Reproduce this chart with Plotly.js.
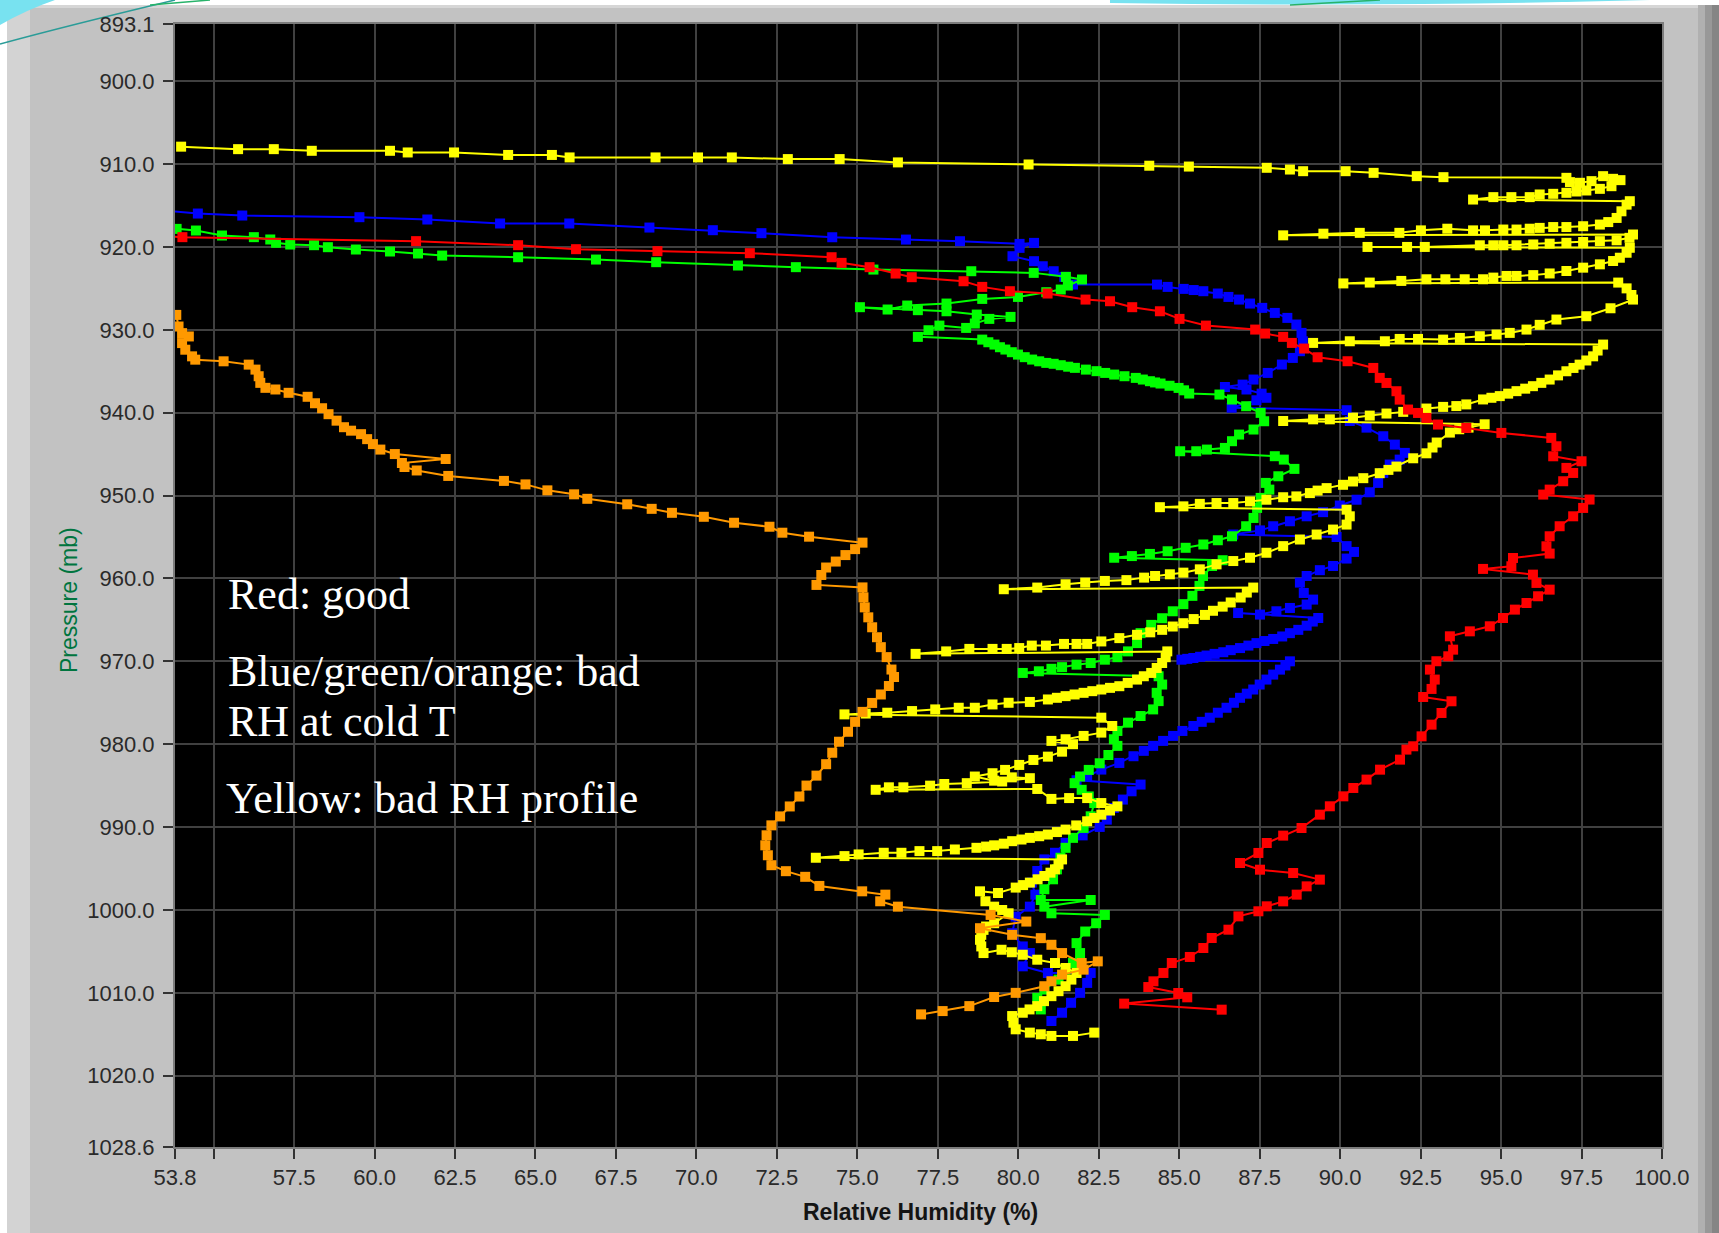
<!DOCTYPE html>
<html>
<head>
<meta charset="utf-8">
<script src="https://cdn.plot.ly/plotly-3.0.1.min.js"></script>
<style>
  html, body { margin: 0; padding: 0; background: #ffffff; }
  #chart { width: 1719px; height: 1233px; }
</style>
</head>
<body>
<div id="chart"></div>
<script>
// Relative humidity (%) against pressure (mb) for five sonde profiles.
// Each profile is a list of [RH, pressure] readings, ordered from low to high pressure.

const rhTicks    = [53.8, 55, 57.5, 60, 62.5, 65, 67.5, 70, 72.5, 75, 77.5, 80, 82.5, 85, 87.5, 90, 92.5, 95, 97.5, 100];
const rhTickText = ['53.8', '', '57.5', '60.0', '62.5', '65.0', '67.5', '70.0', '72.5', '75.0', '77.5', '80.0', '82.5', '85.0', '87.5', '90.0', '92.5', '95.0', '97.5', '100.0'];
const pTicks     = [893.1, 900, 910, 920, 930, 940, 950, 960, 970, 980, 990, 1000, 1010, 1020, 1028.6];
const pTickText  = ['893.1', '900.0', '910.0', '920.0', '930.0', '940.0', '950.0', '960.0', '970.0', '980.0', '990.0', '1000.0', '1010.0', '1020.0', '1028.6'];

const blue = [
  [53.5,915.6],[54.51,915.97],[55.89,916.21],[59.53,916.41],[61.64,916.69],[63.9,917.17],[66.05,917.17],[68.54,917.66],[70.51,917.98],[72.02,918.34],[74.22,918.83],[76.51,919.11],[78.19,919.31],[80.04,919.63],[80.49,919.51],[80.04,920.11],[79.82,921.12],[80.49,921.72],[80.76,922.33],[81.1,922.93],[81.43,923.61],[81.7,924.54],
  [84.31,924.54],[84.64,924.82],[85.14,925.06],[85.45,925.2],[85.75,925.34],[86.2,925.62],[86.53,926.03],[86.86,926.35],[87.2,926.83],[87.58,927.35],[87.97,927.96],[88.36,928.56],[88.64,929.36],[88.8,930.37],[88.84,931.38],[88.75,932.58],[88.53,933.39],[88.19,934.19],[87.75,935.2],[87.31,936.0],[86.97,936.61],[86.42,936.9],[87.09,937.2],[87.56,937.7],[87.71,938.2],[87.4,938.5],[86.63,939.4],
  [90.2,939.7],[90.3,941.0],[90.82,941.8],[91.34,942.84],[91.7,943.85],[92.01,944.85],[91.85,945.66],[91.54,946.26],[91.34,947.27],[91.18,948.47],[90.92,949.6],[90.51,950.5],[89.99,951.2],[89.47,952.0],[88.96,952.5],[88.44,953.1],[87.92,953.7],[87.51,954.2],[86.68,954.7],
  [89.89,955.0],[90.2,956.1],[90.43,956.8],[90.2,957.6],[89.78,958.5],[89.37,959.0],[88.96,959.7],[88.75,960.5],[88.87,961.75],[89.16,962.55],[88.96,963.15],[88.44,963.56],[88.02,963.96],[87.51,964.36],[86.83,964.17],
  [89.32,964.77],[89.15,965.2],[88.96,965.7],[88.7,966.2],[88.44,966.6],[88.2,967.0],[87.92,967.3],[87.65,967.55],[87.4,967.8],[87.15,968.1],[86.89,968.4],[86.6,968.65],[86.37,968.9],[86.1,969.1],[85.85,969.3],[85.65,969.45],[85.44,969.6],[85.25,969.7],[85.07,969.8],
  [88.44,970.0],[88.3,970.5],[88.13,971.0],[87.92,971.6],[87.71,972.2],[87.5,972.8],[87.3,973.4],[87.1,973.9],[86.89,974.4],[86.7,975.0],[86.47,975.6],[86.2,976.2],[85.95,976.8],[85.7,977.3],[85.44,977.8],[85.1,978.4],[84.81,979.0],[84.5,979.6],[84.19,980.2],[83.9,980.8],[83.58,981.45],[83.14,982.26],[82.58,983.06],[82.14,983.87],[81.81,984.35],
  [83.8,984.87],[83.52,985.68],[83.25,986.68],[82.97,987.69],[82.75,989.1],[82.53,989.98],[82.0,991.0],[81.47,991.9],[81.14,993.1],[80.81,993.9],[80.59,995.3],[80.42,996.7],[80.53,998.15],[80.36,999.6],[79.92,1000.8],[79.81,1002.8],[80.14,1004.4],[80.36,1005.2],[80.14,1006.8],[80.92,1007.6],
  [82.25,1007.6],[82.14,1008.8],[81.92,1010.0],[81.64,1011.2],[81.36,1012.4],[81.03,1013.4]
];

const green = [
  [53.85,917.82],[54.45,918.02],[55.26,918.62],[56.25,918.82],[56.76,919.1],[56.94,919.5],[57.38,919.71],[58.12,919.79],[58.55,920.03],[59.42,920.31],[60.48,920.55],[61.35,920.79],[62.1,921.04],[64.46,921.24],[66.88,921.52],[68.75,921.84],[71.29,922.24],[73.09,922.44],[75.5,922.73],[78.54,922.93],[80.48,923.13],
  [81.48,923.61],[81.98,923.93],[81.54,924.66],[81.32,925.14],[80.87,925.46],[79.99,926.03],[78.88,926.27],[77.77,926.83],[76.55,927.07],[75.94,927.55],[75.08,927.27],[76.88,927.63],[77.77,927.76],[78.71,928.16],[79.76,928.44],[79.1,928.68],[78.65,929.24],[78.38,929.77],[77.55,929.49],[77.21,930.05],[76.88,930.85],
  [78.88,931.18],[79.07,931.5],[79.26,931.78],[79.43,932.1],[79.6,932.38],[79.8,932.7],[79.99,932.99],[80.2,933.3],[80.43,933.59],[80.65,933.8],[80.87,933.99],[81.1,934.1],[81.32,934.27],[81.55,934.45],[81.76,934.59],[82.1,934.8],[82.43,934.99],[82.7,935.2],[82.98,935.4],[83.3,935.6],[83.65,935.8],[83.87,936.0],[84.09,936.2],[84.25,936.35],[84.42,936.48],[84.7,936.75],[84.98,937.01],[85.15,937.3],[85.31,937.69],
  [86.25,937.81],[86.64,938.41],[87.08,939.22],[87.53,940.02],[87.64,941.03],[87.31,942.03],[86.86,942.64],[86.64,943.44],[86.42,944.25],[85.86,944.45],[85.53,944.65],[85.03,944.65],
  [87.97,945.25],[88.25,945.66],[88.58,946.78],[88.08,947.67],[87.69,948.47],[87.8,949.28],[87.53,950.28],[87.42,951.49],[87.31,952.7],[87.08,953.7],[86.64,954.91],[86.2,955.39],[85.75,955.9],[85.2,956.3],[84.64,956.72],[84.09,957.04],[83.53,957.3],[82.98,957.5],
  [86.35,957.8],[86.02,958.5],[85.74,959.7],[85.63,960.9],[85.41,962.1],[85.13,963.1],[84.8,963.96],[84.47,964.8],[84.13,965.6],[83.8,966.6],[83.69,967.8],[83.41,968.8],[83.08,969.5],[82.69,969.8],[82.25,970.2],[81.81,970.4],[81.36,970.7],[81.03,970.9],[80.64,971.2],[80.14,971.4],
  [84.36,971.8],[84.47,972.8],[84.3,973.8],[84.36,974.8],[84.19,975.8],[83.8,976.6],[83.41,977.4],[83.08,978.4],[82.97,979.4],[83.08,980.2],[82.8,981.3],[82.53,982.3],[82.19,983.1],[81.92,983.9],[81.75,984.7],[81.97,985.5],[82.19,986.3],[82.36,987.1],[82.25,988.7],[82.03,990.1],[81.7,991.3],[81.47,992.5],[81.31,993.7],[81.2,995.1],[81.08,996.3],[80.81,997.5],[80.7,998.8],
  [82.25,998.8],[80.81,999.6],[81.03,1000.4],[82.69,1000.6],[82.42,1001.6],[82.08,1002.6],[81.81,1004.0],[81.92,1005.2],[81.7,1006.4],[81.47,1007.2],[81.25,1008.4],[80.81,1009.6],[80.59,1010.6],[80.7,1012.0]
];

const yellow = [
  [53.99,907.9],[55.76,908.2],[56.87,908.2],[58.05,908.4],[60.48,908.4],[61.03,908.6],[62.47,908.6],[64.15,908.9],[65.51,908.9],[66.06,909.2],[68.73,909.2],[70.05,909.2],[71.1,909.2],[72.84,909.4],[74.45,909.4],[76.26,909.8],[80.32,910.05],[84.07,910.2],[85.3,910.3],[87.72,910.45],[88.44,910.66],[88.85,910.86],[90.17,910.86],[91.04,911.06],[92.38,911.46],[93.21,911.58],[97.03,911.66],
  [97.14,912.18],[97.45,912.26],[97.81,912.06],[98.17,911.46],[98.48,911.78],[98.71,911.94],[98.43,912.67],[98.07,912.99],[97.65,913.19],[97.34,913.31],[97.03,913.47],
  [96.62,913.59],[96.2,913.67],[95.89,913.99],[95.32,913.99],[94.76,913.99],[94.13,914.28],
  [99.0,914.48],[98.9,914.9],[98.74,915.7],[98.59,916.5],[98.33,917.0],[98.07,917.3],[97.55,917.5],[97.03,917.6],[96.62,917.6],[96.2,917.7],[95.89,917.8],[95.48,917.9],[95.07,917.9],[94.5,918.0],[94.13,918.0],[93.33,917.8],[92.51,918.0],[91.84,918.3],[90.61,918.3],[89.48,918.4],[88.23,918.6],
  [99.1,918.5],[98.99,918.9],[98.59,919.2],[98.07,919.3],[97.55,919.4],[97.03,919.5],[96.51,919.6],[96.0,919.7],[95.48,919.8],[95.07,919.8],[94.76,919.8],[94.34,919.8],[92.63,920.0],[92.08,920.0],[90.85,920.0],
  [99.0,920.1],[98.9,920.7],[98.69,921.3],[98.48,921.7],[98.07,922.1],[97.55,922.5],[97.03,922.9],[96.51,923.2],[96.0,923.4],[95.48,923.5],[95.17,923.5],[94.76,923.7],[94.44,923.9],[93.87,923.9],[93.27,923.9],[92.68,923.9],[91.9,924.1],[90.92,924.3],[90.1,924.4],
  [98.64,924.3],[98.9,925.0],[99.05,925.8],[99.1,926.35],[98.4,927.4],[97.65,928.36],[96.72,928.76],[96.2,929.4],[95.79,929.97],[95.27,930.37],[94.86,930.57],[94.34,930.77],[93.72,930.98],[93.2,931.18],[92.42,931.1],[91.85,931.1],[91.39,931.38],[90.3,931.38],[89.16,931.58],
  [98.17,931.78],[98.0,932.5],[97.86,933.2],[97.65,933.7],[97.44,934.2],[97.25,934.6],[97.03,935.0],[96.77,935.5],[96.51,936.0],[96.25,936.4],[95.99,936.8],[95.75,937.1],[95.48,937.4],[95.22,937.7],[94.96,938.0],[94.7,938.2],[94.44,938.4],[93.92,939.0],[93.61,939.2],[93.2,939.3],[92.68,939.5],[91.96,939.9],[91.44,940.1],[90.92,940.35],[90.4,940.6],[89.68,940.8],[89.16,940.8],[88.23,941.0],
  [94.49,941.4],[93.99,941.8],[93.7,942.0],[93.41,942.4],[93.0,943.6],[92.87,944.2],[92.68,944.9],[92.27,945.5],[91.75,946.5],[91.5,946.9],[91.23,947.3],[90.72,947.9],[90.4,948.3],[90.09,948.7],[89.58,949.1],[89.3,949.4],[89.06,949.7],[88.64,950.1],[88.23,950.2],[87.71,950.5],[87.2,950.7],[86.68,950.9],[86.16,950.9],[85.64,951.0],[85.13,951.3],[84.4,951.4],
  [90.2,951.7],[90.3,952.5],[90.2,953.5],[89.78,954.1],[89.27,954.7],[88.75,955.3],[88.23,956.1],[87.71,956.9],[87.2,957.5],[86.68,957.9],[86.16,958.3],[85.64,958.9],[85.13,959.3],[84.71,959.5],[84.25,959.7],[83.91,959.9],[83.36,960.2],[82.69,960.3],[82.08,960.5],[81.47,960.7],[80.59,961.1],[79.55,961.3],
  [87.3,961.1],[87.1,961.7],[86.91,962.3],[86.6,962.9],[86.35,963.4],[86.05,963.9],[85.8,964.4],[85.45,964.9],[85.13,965.4],[84.8,965.8],[84.47,966.2],[84.1,966.5],[83.69,966.8],[83.14,967.2],[82.58,967.6],[82.14,967.9],[81.81,967.9],[81.42,967.9],[80.86,968.1],[80.42,968.1],[80.03,968.4],[79.64,968.5],[79.2,968.5],[78.48,968.5],[77.76,968.8],[76.81,969.1],
  [84.63,968.8],[84.58,969.5],[84.47,970.2],[84.3,970.8],[84.13,971.4],[83.9,971.8],[83.69,972.2],[83.4,972.6],[83.14,973.0],[82.85,973.2],[82.58,973.4],[82.3,973.6],[82.03,973.8],[81.75,974.0],[81.47,974.2],[81.2,974.4],[80.92,974.6],[80.36,974.9],[79.7,975.0],[79.2,975.2],[78.65,975.6],[78.15,975.6],[77.42,975.8],[76.7,976.0],[75.93,976.2],[75.26,976.3],[74.6,976.4],
  [82.58,976.8],[82.92,977.8],[82.58,978.6],[82.03,979.0],[81.47,979.4],[81.03,979.6],[81.7,980.0],[81.36,980.9],[80.92,981.5],[80.47,981.9],[80.03,982.5],[79.59,983.1],[79.2,983.5],[78.65,983.9],[79.25,984.4],[79.8,984.0],[80.36,984.1],[79.5,984.5],[78.4,984.7],[77.7,984.8],[77.26,985.0],[76.43,985.2],[75.98,985.2],[75.57,985.5],
  [80.59,985.4],[81.03,986.6],[81.58,986.5],[82.14,986.5],[82.58,987.1],[83.08,987.5],[82.85,988.0],[82.58,988.5],[82.36,988.9],[82.14,989.3],[81.8,989.8],[81.47,990.3],[81.2,990.6],[80.92,990.9],[80.65,991.1],[80.36,991.3],[80.1,991.5],[79.81,991.7],[79.55,992.0],[79.25,992.2],[79.0,992.35],[78.7,992.5],[78.03,992.7],[77.48,992.9],[76.93,992.9],[76.37,993.1],[75.82,993.1],[75.04,993.3],[74.6,993.5],[73.71,993.7],
  [81.36,993.9],[81.25,994.5],[81.14,995.1],[81.0,995.5],[80.81,995.9],[80.6,996.3],[80.36,996.7],[80.15,997.0],[79.92,997.3],[79.37,997.95],[78.81,997.75],[78.98,998.95],[79.25,999.6],[79.5,1000.0],[79.7,1000.4],[79.25,1001.6],[79.0,1002.0],[78.92,1002.4],[78.85,1003.0],[78.81,1003.6],[78.85,1004.4],[78.92,1005.2],[79.48,1004.8],[79.8,1005.1],[80.14,1005.4],[80.59,1006.0],[81.14,1006.4],[81.47,1007.0],[81.81,1007.6],[81.65,1008.4],[81.47,1009.2],[81.25,1009.8],[81.03,1010.4],[80.8,1011.0],[80.59,1011.6],[80.35,1012.0],[80.14,1012.4],[79.81,1012.8],[79.85,1013.6],[79.92,1014.4],[80.36,1014.8],[80.7,1015.0],[81.03,1015.2],[81.7,1015.2],[82.36,1014.8]
];

const red = [
  [53.6,918.7],[54.03,918.82],[61.29,919.3],[64.46,919.79],[66.26,920.27],[68.79,920.51],[71.66,920.75],[74.2,921.24],[74.51,921.92],[75.38,922.44],[76.19,923.21],[76.69,923.65],[78.3,924.14],[78.88,924.82],[79.74,925.34],[80.91,925.62],[82.09,926.35],[82.85,926.55],[83.54,927.27],[84.4,927.76],[85.01,928.68],[85.83,929.49],[87.36,929.97],[87.67,930.45],[88.23,930.85],[88.5,931.58],[88.88,932.26],[89.3,933.31],[90.23,933.79],
  [91.03,934.6],[91.23,935.8],[91.44,936.41],[91.75,937.41],[91.85,938.42],[92.11,939.62],[92.42,940.03],[92.68,940.63],[93.04,941.43],[93.92,941.84],[95.01,942.44],[96.56,943.04],[96.72,944.05],[96.62,945.26],[97.5,945.86],[97.03,946.66],[97.24,947.27],[96.93,948.27],[96.51,949.28],[96.31,949.88],
  [97.75,950.48],[97.55,951.49],[97.24,952.5],[96.82,953.7],[96.51,954.91],[96.41,956.12],[96.51,957.0],[95.37,957.53],[95.32,958.53],[94.44,958.85],[95.99,959.54],[96.1,960.54],[96.51,961.35],[96.15,962.15],[95.79,962.96],[95.43,963.76],[95.06,964.77],[94.65,965.77],[94.03,966.38],[93.41,966.98],[93.51,968.59],[93.36,969.39],[92.99,969.99],[92.79,971.0],[92.94,972.2],[92.84,973.33],[92.58,974.3],
  [93.46,974.82],[93.15,976.23],[92.84,977.64],[92.53,979.05],[92.27,980.25],[92.06,980.65],[91.86,981.86],[91.24,983.07],[90.82,984.27],[90.41,985.28],[90.1,986.29],[89.68,987.49],[89.37,988.5],[88.8,990.11],[88.23,991.03],[87.72,991.92],[87.46,993.12],[86.89,994.33],
  [87.51,995.14],[88.54,995.54],[89.37,996.34],[88.96,997.15],[88.65,998.15],[88.23,998.96],[87.72,999.56],[87.46,1000.16],[86.84,1000.77],[86.53,1002.38],[86.01,1003.38],[85.75,1004.59],[85.33,1005.67],[84.77,1006.4],[84.51,1007.6],[84.2,1008.61],[84.04,1009.3],[84.97,1010.02],[85.25,1010.54],[83.29,1011.3],[86.32,1012.03]
];

const orange = [
  [53.84,928.2],[53.91,929.6],[54.02,930.4],[54.23,930.8],[54.02,931.6],[54.12,932.4],[54.33,933.2],[54.43,933.6],[55.31,933.8],[56.09,934.2],[56.3,934.8],[56.4,935.6],[56.45,936.4],[56.61,937.0],[56.92,937.2],[57.33,937.6],[57.92,938.08],[58.15,938.86],[58.37,939.46],[58.57,940.18],[58.82,940.96],[59.05,941.75],[59.27,942.17],[59.58,942.59],[59.77,943.19],[59.95,943.79],[60.18,944.45],[60.63,944.99],[62.21,945.59],[60.85,946.07],[60.93,946.55],[61.31,946.97],[62.29,947.63],
  [64.02,948.23],[64.69,948.65],[65.37,949.37],[66.2,949.85],[66.61,950.39],[67.85,951.05],[68.61,951.6],[69.24,952.08],[70.23,952.56],[71.17,953.28],[72.27,953.76],[72.67,954.48],[73.5,954.96],[75.16,955.68],[74.93,956.46],[74.63,957.18],[74.33,957.96],[74.03,958.68],[73.88,959.58],[73.73,960.78],
  [75.16,961.08],[75.19,962.28],[75.23,963.49],[75.34,964.69],[75.46,965.89],[75.61,967.09],[75.73,968.29],[75.91,969.49],[76.06,970.99],[76.14,971.89],[75.98,972.98],[75.73,974.0],[75.46,975.02],[75.16,976.1],[74.93,977.3],[74.71,978.5],[74.43,979.7],[74.22,981.03],[74.03,982.41],[73.73,983.79],[73.42,984.99],[73.2,986.31],[72.9,987.51],[72.6,988.71],[72.33,989.79],[72.18,990.99],[72.14,992.2],[72.22,993.4],[72.33,994.6],
  [72.78,995.32],[73.38,996.0],[73.82,997.1],[75.15,997.75],[75.87,998.15],[75.71,998.95],[76.26,999.6],[79.14,1000.6],[80.25,1001.4],[78.81,1002.2],[79.81,1003.0],[80.7,1003.4],[81.03,1004.2],[81.36,1005.2],[81.97,1006.4],[82.47,1006.2],[82.03,1007.2],[81.36,1007.8],[81.03,1008.6],[80.81,1009.2],[79.92,1010.0],[79.25,1010.5],[78.48,1011.6],[77.65,1012.2],[76.98,1012.6]
];

// Drawing order: later series sit on top.
const series = [
  { pts: blue,   color: '#0000ff' },
  { pts: green,  color: '#00ff00' },
  { pts: yellow, color: '#ffff00' },
  { pts: red,    color: '#ff0000' },
  { pts: orange, color: '#ff9900' }
];

const traces = series.map(s => ({
  type: 'scatter',
  mode: 'lines+markers',
  x: s.pts.map(p => p[0]),
  y: s.pts.map(p => p[1]),
  line: { color: s.color, width: 2 },
  marker: { color: s.color, symbol: 'square', size: 10, line: { width: 0 } },
  hoverinfo: 'skip',
  cliponaxis: true
}));

// Page geometry helpers (pixels -> paper fraction)
const W = 1719, H = 1233, ML = 175, MR = 57, MT = 24, MB = 86;
const PW = W - ML - MR, PH = H - MT - MB;
const fx = x => (x - ML) / PW;
const fy = y => 1 - (y - MT) / PH;
const pt = (x, y) => fx(x).toFixed(5) + ',' + fy(y).toFixed(5);

const rect = (x0, y0, x1, y1, color) => ({
  type: 'rect', xref: 'paper', yref: 'paper', layer: 'below',
  x0: fx(x0), x1: fx(x1), y0: fy(y0), y1: fy(y1),
  fillcolor: color, line: { width: 0 }
});

const shapes = [
  rect(0, 0, 7, H, '#ffffff'),
  rect(0, 0, W, 5, '#ffffff'),
  rect(7, 5, 30, H, '#d3d3d3'),
  rect(7, 5, W, 8, '#d6d6d6'),
  rect(1698, 5, 1705, H, '#b0b0b0'),
  rect(1705, 5, 1712, H, '#989898'),
  rect(1712, 5, W, H, '#858585'),
  // slide decoration along the top edge
  { type: 'path', xref: 'paper', yref: 'paper', layer: 'below',
    path: 'M' + pt(0, 0) + ' L' + pt(55, 0) + ' Q' + pt(26, 10) + ' ' + pt(0, 25) + ' Z',
    fillcolor: '#78e2f0', line: { width: 0 } },
  { type: 'path', xref: 'paper', yref: 'paper', layer: 'below',
    path: 'M' + pt(0, 44) + ' Q' + pt(70, 25) + ' ' + pt(175, 0),
    line: { color: '#2a9c98', width: 1.5 } },
  { type: 'path', xref: 'paper', yref: 'paper', layer: 'below',
    path: 'M' + pt(150, 5) + ' L' + pt(210, 0),
    line: { color: '#27b36a', width: 1.5 } },
  { type: 'path', xref: 'paper', yref: 'paper', layer: 'below',
    path: 'M' + pt(1110, 0) + ' L' + pt(1650, 0) + ' Q' + pt(1400, 7) + ' ' + pt(1110, 3) + ' Z',
    fillcolor: '#78e2f0', line: { width: 0 } },
  { type: 'path', xref: 'paper', yref: 'paper', layer: 'below',
    path: 'M' + pt(1290, 5) + ' L' + pt(1380, 0),
    line: { color: '#27b36a', width: 1.5 } }
];

const noteFont = { family: 'Liberation Serif, DejaVu Serif, serif', size: 44, color: '#ffffff' };
const note = (text, x, y) => ({
  text, xref: 'paper', yref: 'paper', x: fx(x), y: fy(y),
  xanchor: 'left', yanchor: 'middle', showarrow: false, font: noteFont
});

const annotations = [
  note('Red: good', 226, 594),
  note('Blue/green/orange: bad', 226, 671),
  note('RH at cold T', 226, 721),
  note('Yellow: bad RH profile', 224, 798),
  { text: 'Pressure (mb)', xref: 'paper', yref: 'paper', x: fx(69), y: fy(600),
    xanchor: 'center', yanchor: 'middle', textangle: -90, showarrow: false,
    font: { family: 'Liberation Sans, Arial, sans-serif', size: 23, color: '#00753f' } },
  { text: '<b>Relative Humidity (%)</b>', xref: 'paper', yref: 'paper', x: fx(920), y: fy(1212),
    xanchor: 'center', yanchor: 'middle', showarrow: false,
    font: { family: 'Liberation Sans, Arial, sans-serif', size: 23, color: '#141414' } }
];

const tickFont = { family: 'Liberation Sans, Arial, sans-serif', size: 22, color: '#2a2a2a' };

const layout = {
  width: W, height: H,
  margin: { l: ML, r: MR, t: MT, b: MB, pad: 0 },
  paper_bgcolor: '#c2c2c2',
  plot_bgcolor: '#000000',
  showlegend: false,
  xaxis: {
    range: [53.8, 100],
    tickmode: 'array', tickvals: rhTicks, ticktext: rhTickText,
    showgrid: true, gridcolor: '#404040', gridwidth: 2,
    zeroline: false, showline: true, linecolor: '#7c7c7c', linewidth: 2, mirror: true,
    ticks: 'outside', ticklen: 10, tickwidth: 2, tickcolor: '#333333',
    tickfont: tickFont, ticklabelstandoff: 0
  },
  yaxis: {
    range: [1028.6, 893.1],
    tickmode: 'array', tickvals: pTicks, ticktext: pTickText,
    showgrid: true, gridcolor: '#404040', gridwidth: 2,
    zeroline: false, showline: true, linecolor: '#7c7c7c', linewidth: 2, mirror: true,
    ticks: 'outside', ticklen: 10, tickwidth: 2, tickcolor: '#333333',
    tickfont: tickFont, ticklabelstandoff: 4
  },
  shapes, annotations
};

Plotly.newPlot('chart', traces, layout, { staticPlot: true, displayModeBar: false });
</script>
</body>
</html>
